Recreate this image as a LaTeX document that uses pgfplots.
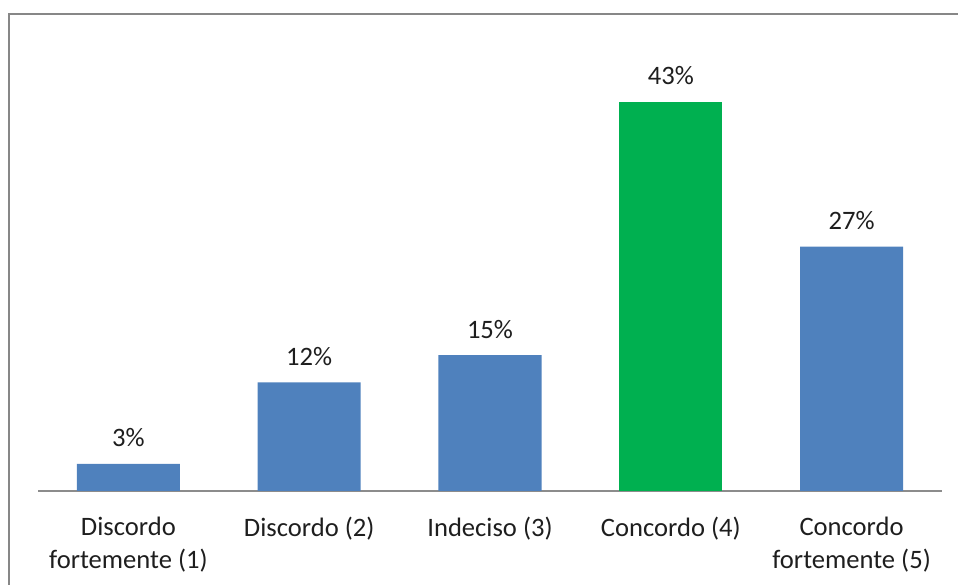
\documentclass[border=0pt]{standalone}
\usepackage{fontspec}
\setmainfont{Carlito}
\usepackage{pgfplots}
\pgfplotsset{compat=1.18}
\definecolor{barblue}{HTML}{4F81BD}
\definecolor{bargreen}{HTML}{00B050}
\definecolor{framegray}{HTML}{878787}
\definecolor{axisgray}{HTML}{8C8C8C}
\definecolor{labeltext}{HTML}{1E1E1E}
\begin{document}
\begin{tikzpicture}
\clip (0,0) rectangle (479bp,292.5bp);
% outer chart frame (right and bottom edges fall outside the page)
\draw[framegray, line width=1.1bp] (4.5bp,285.5bp) rectangle (495bp,-10bp);
\begin{axis}[
  at={(19bp,47bp)}, anchor=south west,
  scale only axis,
  width=452bp, height=226.25bp,
  xmin=-0.5, xmax=4.5, ymin=0, ymax=50,
  axis x line=bottom, axis y line=none,
  x axis line style={-, draw=axisgray, line width=0.8bp},
  xtick={0,1,2,3,4},
  xticklabels={Discordo\\fortemente (1), Discordo (2), Indeciso (3), Concordo (4), Concordo\\fortemente (5)},
  xtick style={draw=none},
  xticklabel style={align=center, anchor=north, text=labeltext,
    font=\fontsize{13.3bp}{16.5bp}\selectfont, yshift=-5bp},
  /pgf/number format/assume math mode=true,
  ybar, bar width=51.5bp,
  nodes near coords={\pgfmathprintnumber{\pgfplotspointmeta}\%},
  every node near coord/.append style={anchor=base, yshift=8.5bp, text=labeltext,
    font=\fontsize{13.3bp}{15bp}\selectfont},
]
\addplot[fill=barblue, draw=none, bar shift=0pt] coordinates {(0,3) (1,12) (2,15) (4,27)};
\addplot[fill=bargreen, draw=none, bar shift=0pt] coordinates {(3,43)};
\end{axis}
\end{tikzpicture}
\end{document}
